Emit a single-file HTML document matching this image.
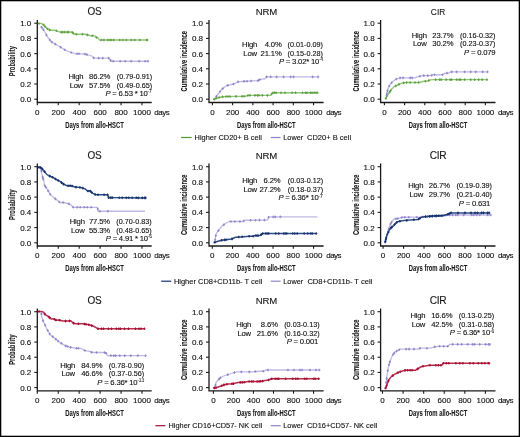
<!DOCTYPE html>
<html><head><meta charset="utf-8"><style>
html,body{margin:0;padding:0;background:#fff;}
svg{display:block;font-family:"Liberation Sans", sans-serif;will-change:transform;}
text{stroke:#111;stroke-width:0.12px;}
</style></head><body>
<svg width="520" height="437" viewBox="0 0 520 437">
<rect width="520" height="437" fill="#fff"/>
<rect x="0.65" y="0.65" width="518.7" height="435.7" fill="none" stroke="#000" stroke-width="1.3"/>
<path d="M37.30 20.00V102.50H151.70" fill="none" stroke="#1a1a1a" stroke-width="1.3"/>
<path d="M34.30 99.20H37.3" stroke="#1a1a1a" stroke-width="1.1"/>
<text x="31.30" y="102.20" font-size="8.0" text-anchor="end" fill="#111"  letter-spacing="0">0.0</text>
<path d="M34.30 84.00H37.3" stroke="#1a1a1a" stroke-width="1.1"/>
<text x="31.30" y="87.00" font-size="8.0" text-anchor="end" fill="#111"  letter-spacing="0">0.2</text>
<path d="M34.30 68.80H37.3" stroke="#1a1a1a" stroke-width="1.1"/>
<text x="31.30" y="71.80" font-size="8.0" text-anchor="end" fill="#111"  letter-spacing="0">0.4</text>
<path d="M34.30 53.60H37.3" stroke="#1a1a1a" stroke-width="1.1"/>
<text x="31.30" y="56.60" font-size="8.0" text-anchor="end" fill="#111"  letter-spacing="0">0.6</text>
<path d="M34.30 38.40H37.3" stroke="#1a1a1a" stroke-width="1.1"/>
<text x="31.30" y="41.40" font-size="8.0" text-anchor="end" fill="#111"  letter-spacing="0">0.8</text>
<path d="M34.30 23.20H37.3" stroke="#1a1a1a" stroke-width="1.1"/>
<text x="31.30" y="26.20" font-size="8.0" text-anchor="end" fill="#111"  letter-spacing="0">1.0</text>
<path d="M37.30 102.5V105.30" stroke="#1a1a1a" stroke-width="1.1"/>
<text x="37.30" y="114.70" font-size="8.0" text-anchor="middle" fill="#111"  letter-spacing="0">0</text>
<path d="M58.24 102.5V105.30" stroke="#1a1a1a" stroke-width="1.1"/>
<text x="58.24" y="114.70" font-size="8.0" text-anchor="middle" fill="#111"  letter-spacing="0">200</text>
<path d="M79.18 102.5V105.30" stroke="#1a1a1a" stroke-width="1.1"/>
<text x="79.18" y="114.70" font-size="8.0" text-anchor="middle" fill="#111"  letter-spacing="0">400</text>
<path d="M100.12 102.5V105.30" stroke="#1a1a1a" stroke-width="1.1"/>
<text x="100.12" y="114.70" font-size="8.0" text-anchor="middle" fill="#111"  letter-spacing="0">600</text>
<path d="M121.06 102.5V105.30" stroke="#1a1a1a" stroke-width="1.1"/>
<text x="121.06" y="114.70" font-size="8.0" text-anchor="middle" fill="#111"  letter-spacing="0">800</text>
<path d="M142.00 102.5V105.30" stroke="#1a1a1a" stroke-width="1.1"/>
<text x="142.00" y="114.70" font-size="8.0" text-anchor="middle" fill="#111"  letter-spacing="0">1000</text>
<text x="154.30" y="114.70" font-size="8.0" text-anchor="start" fill="#111"  letter-spacing="-0.5">days</text>
<text x="94.50" y="15.30" font-size="10.0" text-anchor="middle" fill="#1a1a1a"  letter-spacing="-0.3">OS</text>
<text x="94.50" y="127.60" font-size="9.4" text-anchor="middle" fill="#1a1a1a" font-weight="bold" style="stroke-width:0.08px" textLength="58.5" lengthAdjust="spacingAndGlyphs">Days from allo-HSCT</text>
<text transform="translate(14.70 61.20) rotate(-90)" x="0" y="0" font-size="9.4" font-weight="bold" style="stroke-width:0.08px" text-anchor="middle" fill="#1a1a1a" textLength="30.3" lengthAdjust="spacingAndGlyphs">Probability</text>
<path d="M209.00 20.00V102.50H323.60" fill="none" stroke="#1a1a1a" stroke-width="1.3"/>
<path d="M206.00 99.20H209.0" stroke="#1a1a1a" stroke-width="1.1"/>
<text x="203.00" y="102.20" font-size="8.0" text-anchor="end" fill="#111"  letter-spacing="0">0.0</text>
<path d="M206.00 84.00H209.0" stroke="#1a1a1a" stroke-width="1.1"/>
<text x="203.00" y="87.00" font-size="8.0" text-anchor="end" fill="#111"  letter-spacing="0">0.2</text>
<path d="M206.00 68.80H209.0" stroke="#1a1a1a" stroke-width="1.1"/>
<text x="203.00" y="71.80" font-size="8.0" text-anchor="end" fill="#111"  letter-spacing="0">0.4</text>
<path d="M206.00 53.60H209.0" stroke="#1a1a1a" stroke-width="1.1"/>
<text x="203.00" y="56.60" font-size="8.0" text-anchor="end" fill="#111"  letter-spacing="0">0.6</text>
<path d="M206.00 38.40H209.0" stroke="#1a1a1a" stroke-width="1.1"/>
<text x="203.00" y="41.40" font-size="8.0" text-anchor="end" fill="#111"  letter-spacing="0">0.8</text>
<path d="M206.00 23.20H209.0" stroke="#1a1a1a" stroke-width="1.1"/>
<text x="203.00" y="26.20" font-size="8.0" text-anchor="end" fill="#111"  letter-spacing="0">1.0</text>
<path d="M212.40 102.5V105.30" stroke="#1a1a1a" stroke-width="1.1"/>
<text x="212.40" y="114.70" font-size="8.0" text-anchor="middle" fill="#111"  letter-spacing="0">0</text>
<path d="M232.63 102.5V105.30" stroke="#1a1a1a" stroke-width="1.1"/>
<text x="232.63" y="114.70" font-size="8.0" text-anchor="middle" fill="#111"  letter-spacing="0">200</text>
<path d="M252.86 102.5V105.30" stroke="#1a1a1a" stroke-width="1.1"/>
<text x="252.86" y="114.70" font-size="8.0" text-anchor="middle" fill="#111"  letter-spacing="0">400</text>
<path d="M273.09 102.5V105.30" stroke="#1a1a1a" stroke-width="1.1"/>
<text x="273.09" y="114.70" font-size="8.0" text-anchor="middle" fill="#111"  letter-spacing="0">600</text>
<path d="M293.32 102.5V105.30" stroke="#1a1a1a" stroke-width="1.1"/>
<text x="293.32" y="114.70" font-size="8.0" text-anchor="middle" fill="#111"  letter-spacing="0">800</text>
<path d="M313.55 102.5V105.30" stroke="#1a1a1a" stroke-width="1.1"/>
<text x="313.55" y="114.70" font-size="8.0" text-anchor="middle" fill="#111"  letter-spacing="0">1000</text>
<text x="326.20" y="114.70" font-size="8.0" text-anchor="start" fill="#111"  letter-spacing="-0.5">days</text>
<text x="266.30" y="15.30" font-size="9.6" text-anchor="middle" fill="#1a1a1a"  letter-spacing="-0.2">NRM</text>
<text x="266.30" y="127.60" font-size="9.4" text-anchor="middle" fill="#1a1a1a" font-weight="bold" style="stroke-width:0.08px" textLength="58.5" lengthAdjust="spacingAndGlyphs">Days from allo-HSCT</text>
<text transform="translate(187.10 61.20) rotate(-90)" x="0" y="0" font-size="9.4" font-weight="bold" style="stroke-width:0.08px" text-anchor="middle" fill="#1a1a1a" textLength="60.6" lengthAdjust="spacingAndGlyphs">Cumulative incidence</text>
<path d="M380.60 20.00V102.50H495.50" fill="none" stroke="#1a1a1a" stroke-width="1.3"/>
<path d="M377.60 99.20H380.6" stroke="#1a1a1a" stroke-width="1.1"/>
<text x="374.60" y="102.20" font-size="8.0" text-anchor="end" fill="#111"  letter-spacing="0">0.0</text>
<path d="M377.60 84.00H380.6" stroke="#1a1a1a" stroke-width="1.1"/>
<text x="374.60" y="87.00" font-size="8.0" text-anchor="end" fill="#111"  letter-spacing="0">0.2</text>
<path d="M377.60 68.80H380.6" stroke="#1a1a1a" stroke-width="1.1"/>
<text x="374.60" y="71.80" font-size="8.0" text-anchor="end" fill="#111"  letter-spacing="0">0.4</text>
<path d="M377.60 53.60H380.6" stroke="#1a1a1a" stroke-width="1.1"/>
<text x="374.60" y="56.60" font-size="8.0" text-anchor="end" fill="#111"  letter-spacing="0">0.6</text>
<path d="M377.60 38.40H380.6" stroke="#1a1a1a" stroke-width="1.1"/>
<text x="374.60" y="41.40" font-size="8.0" text-anchor="end" fill="#111"  letter-spacing="0">0.8</text>
<path d="M377.60 23.20H380.6" stroke="#1a1a1a" stroke-width="1.1"/>
<text x="374.60" y="26.20" font-size="8.0" text-anchor="end" fill="#111"  letter-spacing="0">1.0</text>
<path d="M384.40 102.5V105.30" stroke="#1a1a1a" stroke-width="1.1"/>
<text x="384.40" y="114.70" font-size="8.0" text-anchor="middle" fill="#111"  letter-spacing="0">0</text>
<path d="M404.60 102.5V105.30" stroke="#1a1a1a" stroke-width="1.1"/>
<text x="404.60" y="114.70" font-size="8.0" text-anchor="middle" fill="#111"  letter-spacing="0">200</text>
<path d="M424.80 102.5V105.30" stroke="#1a1a1a" stroke-width="1.1"/>
<text x="424.80" y="114.70" font-size="8.0" text-anchor="middle" fill="#111"  letter-spacing="0">400</text>
<path d="M445.00 102.5V105.30" stroke="#1a1a1a" stroke-width="1.1"/>
<text x="445.00" y="114.70" font-size="8.0" text-anchor="middle" fill="#111"  letter-spacing="0">600</text>
<path d="M465.20 102.5V105.30" stroke="#1a1a1a" stroke-width="1.1"/>
<text x="465.20" y="114.70" font-size="8.0" text-anchor="middle" fill="#111"  letter-spacing="0">800</text>
<path d="M485.40 102.5V105.30" stroke="#1a1a1a" stroke-width="1.1"/>
<text x="485.40" y="114.70" font-size="8.0" text-anchor="middle" fill="#111"  letter-spacing="0">1000</text>
<text x="498.10" y="114.70" font-size="8.0" text-anchor="start" fill="#111"  letter-spacing="-0.5">days</text>
<text x="438.05" y="15.30" font-size="9.6" text-anchor="middle" fill="#1a1a1a" textLength="14.4" lengthAdjust="spacingAndGlyphs">CIR</text>
<text x="438.05" y="127.60" font-size="9.4" text-anchor="middle" fill="#1a1a1a" font-weight="bold" style="stroke-width:0.08px" textLength="58.5" lengthAdjust="spacingAndGlyphs">Days from allo-HSCT</text>
<text transform="translate(358.70 61.20) rotate(-90)" x="0" y="0" font-size="9.4" font-weight="bold" style="stroke-width:0.08px" text-anchor="middle" fill="#1a1a1a" textLength="60.6" lengthAdjust="spacingAndGlyphs">Cumulative incidence</text>
<path d="M37.30 163.50V246.00H151.70" fill="none" stroke="#1a1a1a" stroke-width="1.3"/>
<path d="M34.30 242.80H37.3" stroke="#1a1a1a" stroke-width="1.1"/>
<text x="31.30" y="245.80" font-size="8.0" text-anchor="end" fill="#111"  letter-spacing="0">0.0</text>
<path d="M34.30 227.58H37.3" stroke="#1a1a1a" stroke-width="1.1"/>
<text x="31.30" y="230.58" font-size="8.0" text-anchor="end" fill="#111"  letter-spacing="0">0.2</text>
<path d="M34.30 212.36H37.3" stroke="#1a1a1a" stroke-width="1.1"/>
<text x="31.30" y="215.36" font-size="8.0" text-anchor="end" fill="#111"  letter-spacing="0">0.4</text>
<path d="M34.30 197.14H37.3" stroke="#1a1a1a" stroke-width="1.1"/>
<text x="31.30" y="200.14" font-size="8.0" text-anchor="end" fill="#111"  letter-spacing="0">0.6</text>
<path d="M34.30 181.92H37.3" stroke="#1a1a1a" stroke-width="1.1"/>
<text x="31.30" y="184.92" font-size="8.0" text-anchor="end" fill="#111"  letter-spacing="0">0.8</text>
<path d="M34.30 166.70H37.3" stroke="#1a1a1a" stroke-width="1.1"/>
<text x="31.30" y="169.70" font-size="8.0" text-anchor="end" fill="#111"  letter-spacing="0">1.0</text>
<path d="M37.30 246.0V248.80" stroke="#1a1a1a" stroke-width="1.1"/>
<text x="37.30" y="258.20" font-size="8.0" text-anchor="middle" fill="#111"  letter-spacing="0">0</text>
<path d="M58.24 246.0V248.80" stroke="#1a1a1a" stroke-width="1.1"/>
<text x="58.24" y="258.20" font-size="8.0" text-anchor="middle" fill="#111"  letter-spacing="0">200</text>
<path d="M79.18 246.0V248.80" stroke="#1a1a1a" stroke-width="1.1"/>
<text x="79.18" y="258.20" font-size="8.0" text-anchor="middle" fill="#111"  letter-spacing="0">400</text>
<path d="M100.12 246.0V248.80" stroke="#1a1a1a" stroke-width="1.1"/>
<text x="100.12" y="258.20" font-size="8.0" text-anchor="middle" fill="#111"  letter-spacing="0">600</text>
<path d="M121.06 246.0V248.80" stroke="#1a1a1a" stroke-width="1.1"/>
<text x="121.06" y="258.20" font-size="8.0" text-anchor="middle" fill="#111"  letter-spacing="0">800</text>
<path d="M142.00 246.0V248.80" stroke="#1a1a1a" stroke-width="1.1"/>
<text x="142.00" y="258.20" font-size="8.0" text-anchor="middle" fill="#111"  letter-spacing="0">1000</text>
<text x="154.30" y="258.20" font-size="8.0" text-anchor="start" fill="#111"  letter-spacing="-0.5">days</text>
<text x="94.50" y="158.80" font-size="10.0" text-anchor="middle" fill="#1a1a1a"  letter-spacing="-0.3">OS</text>
<text x="94.50" y="271.10" font-size="9.4" text-anchor="middle" fill="#1a1a1a" font-weight="bold" style="stroke-width:0.08px" textLength="58.5" lengthAdjust="spacingAndGlyphs">Days from allo-HSCT</text>
<text transform="translate(14.70 204.75) rotate(-90)" x="0" y="0" font-size="9.4" font-weight="bold" style="stroke-width:0.08px" text-anchor="middle" fill="#1a1a1a" textLength="30.3" lengthAdjust="spacingAndGlyphs">Probability</text>
<path d="M209.00 163.50V246.00H323.60" fill="none" stroke="#1a1a1a" stroke-width="1.3"/>
<path d="M206.00 242.80H209.0" stroke="#1a1a1a" stroke-width="1.1"/>
<text x="203.00" y="245.80" font-size="8.0" text-anchor="end" fill="#111"  letter-spacing="0">0.0</text>
<path d="M206.00 227.58H209.0" stroke="#1a1a1a" stroke-width="1.1"/>
<text x="203.00" y="230.58" font-size="8.0" text-anchor="end" fill="#111"  letter-spacing="0">0.2</text>
<path d="M206.00 212.36H209.0" stroke="#1a1a1a" stroke-width="1.1"/>
<text x="203.00" y="215.36" font-size="8.0" text-anchor="end" fill="#111"  letter-spacing="0">0.4</text>
<path d="M206.00 197.14H209.0" stroke="#1a1a1a" stroke-width="1.1"/>
<text x="203.00" y="200.14" font-size="8.0" text-anchor="end" fill="#111"  letter-spacing="0">0.6</text>
<path d="M206.00 181.92H209.0" stroke="#1a1a1a" stroke-width="1.1"/>
<text x="203.00" y="184.92" font-size="8.0" text-anchor="end" fill="#111"  letter-spacing="0">0.8</text>
<path d="M206.00 166.70H209.0" stroke="#1a1a1a" stroke-width="1.1"/>
<text x="203.00" y="169.70" font-size="8.0" text-anchor="end" fill="#111"  letter-spacing="0">1.0</text>
<path d="M212.30 246.0V248.80" stroke="#1a1a1a" stroke-width="1.1"/>
<text x="212.30" y="258.20" font-size="8.0" text-anchor="middle" fill="#111"  letter-spacing="0">0</text>
<path d="M232.55 246.0V248.80" stroke="#1a1a1a" stroke-width="1.1"/>
<text x="232.55" y="258.20" font-size="8.0" text-anchor="middle" fill="#111"  letter-spacing="0">200</text>
<path d="M252.80 246.0V248.80" stroke="#1a1a1a" stroke-width="1.1"/>
<text x="252.80" y="258.20" font-size="8.0" text-anchor="middle" fill="#111"  letter-spacing="0">400</text>
<path d="M273.05 246.0V248.80" stroke="#1a1a1a" stroke-width="1.1"/>
<text x="273.05" y="258.20" font-size="8.0" text-anchor="middle" fill="#111"  letter-spacing="0">600</text>
<path d="M293.30 246.0V248.80" stroke="#1a1a1a" stroke-width="1.1"/>
<text x="293.30" y="258.20" font-size="8.0" text-anchor="middle" fill="#111"  letter-spacing="0">800</text>
<path d="M313.55 246.0V248.80" stroke="#1a1a1a" stroke-width="1.1"/>
<text x="313.55" y="258.20" font-size="8.0" text-anchor="middle" fill="#111"  letter-spacing="0">1000</text>
<text x="326.20" y="258.20" font-size="8.0" text-anchor="start" fill="#111"  letter-spacing="-0.5">days</text>
<text x="266.30" y="158.80" font-size="9.6" text-anchor="middle" fill="#1a1a1a"  letter-spacing="-0.2">NRM</text>
<text x="266.30" y="271.10" font-size="9.4" text-anchor="middle" fill="#1a1a1a" font-weight="bold" style="stroke-width:0.08px" textLength="58.5" lengthAdjust="spacingAndGlyphs">Days from allo-HSCT</text>
<text transform="translate(187.10 204.75) rotate(-90)" x="0" y="0" font-size="9.4" font-weight="bold" style="stroke-width:0.08px" text-anchor="middle" fill="#1a1a1a" textLength="60.6" lengthAdjust="spacingAndGlyphs">Cumulative incidence</text>
<path d="M380.60 163.50V246.00H495.50" fill="none" stroke="#1a1a1a" stroke-width="1.3"/>
<path d="M377.60 242.80H380.6" stroke="#1a1a1a" stroke-width="1.1"/>
<text x="374.60" y="245.80" font-size="8.0" text-anchor="end" fill="#111"  letter-spacing="0">0.0</text>
<path d="M377.60 227.58H380.6" stroke="#1a1a1a" stroke-width="1.1"/>
<text x="374.60" y="230.58" font-size="8.0" text-anchor="end" fill="#111"  letter-spacing="0">0.2</text>
<path d="M377.60 212.36H380.6" stroke="#1a1a1a" stroke-width="1.1"/>
<text x="374.60" y="215.36" font-size="8.0" text-anchor="end" fill="#111"  letter-spacing="0">0.4</text>
<path d="M377.60 197.14H380.6" stroke="#1a1a1a" stroke-width="1.1"/>
<text x="374.60" y="200.14" font-size="8.0" text-anchor="end" fill="#111"  letter-spacing="0">0.6</text>
<path d="M377.60 181.92H380.6" stroke="#1a1a1a" stroke-width="1.1"/>
<text x="374.60" y="184.92" font-size="8.0" text-anchor="end" fill="#111"  letter-spacing="0">0.8</text>
<path d="M377.60 166.70H380.6" stroke="#1a1a1a" stroke-width="1.1"/>
<text x="374.60" y="169.70" font-size="8.0" text-anchor="end" fill="#111"  letter-spacing="0">1.0</text>
<path d="M383.10 246.0V248.80" stroke="#1a1a1a" stroke-width="1.1"/>
<text x="383.10" y="258.20" font-size="8.0" text-anchor="middle" fill="#111"  letter-spacing="0">0</text>
<path d="M403.56 246.0V248.80" stroke="#1a1a1a" stroke-width="1.1"/>
<text x="403.56" y="258.20" font-size="8.0" text-anchor="middle" fill="#111"  letter-spacing="0">200</text>
<path d="M424.02 246.0V248.80" stroke="#1a1a1a" stroke-width="1.1"/>
<text x="424.02" y="258.20" font-size="8.0" text-anchor="middle" fill="#111"  letter-spacing="0">400</text>
<path d="M444.48 246.0V248.80" stroke="#1a1a1a" stroke-width="1.1"/>
<text x="444.48" y="258.20" font-size="8.0" text-anchor="middle" fill="#111"  letter-spacing="0">600</text>
<path d="M464.94 246.0V248.80" stroke="#1a1a1a" stroke-width="1.1"/>
<text x="464.94" y="258.20" font-size="8.0" text-anchor="middle" fill="#111"  letter-spacing="0">800</text>
<path d="M485.40 246.0V248.80" stroke="#1a1a1a" stroke-width="1.1"/>
<text x="485.40" y="258.20" font-size="8.0" text-anchor="middle" fill="#111"  letter-spacing="0">1000</text>
<text x="498.10" y="258.20" font-size="8.0" text-anchor="start" fill="#111"  letter-spacing="-0.5">days</text>
<text x="438.05" y="158.80" font-size="10.2" text-anchor="middle" fill="#1a1a1a"  letter-spacing="-0.4">CIR</text>
<text x="438.05" y="271.10" font-size="9.4" text-anchor="middle" fill="#1a1a1a" font-weight="bold" style="stroke-width:0.08px" textLength="58.5" lengthAdjust="spacingAndGlyphs">Days from allo-HSCT</text>
<text transform="translate(358.70 204.75) rotate(-90)" x="0" y="0" font-size="9.4" font-weight="bold" style="stroke-width:0.08px" text-anchor="middle" fill="#1a1a1a" textLength="60.6" lengthAdjust="spacingAndGlyphs">Cumulative incidence</text>
<path d="M37.30 308.50V390.90H151.70" fill="none" stroke="#1a1a1a" stroke-width="1.3"/>
<path d="M34.30 387.60H37.3" stroke="#1a1a1a" stroke-width="1.1"/>
<text x="31.30" y="390.60" font-size="8.0" text-anchor="end" fill="#111"  letter-spacing="0">0.0</text>
<path d="M34.30 372.42H37.3" stroke="#1a1a1a" stroke-width="1.1"/>
<text x="31.30" y="375.42" font-size="8.0" text-anchor="end" fill="#111"  letter-spacing="0">0.2</text>
<path d="M34.30 357.24H37.3" stroke="#1a1a1a" stroke-width="1.1"/>
<text x="31.30" y="360.24" font-size="8.0" text-anchor="end" fill="#111"  letter-spacing="0">0.4</text>
<path d="M34.30 342.06H37.3" stroke="#1a1a1a" stroke-width="1.1"/>
<text x="31.30" y="345.06" font-size="8.0" text-anchor="end" fill="#111"  letter-spacing="0">0.6</text>
<path d="M34.30 326.88H37.3" stroke="#1a1a1a" stroke-width="1.1"/>
<text x="31.30" y="329.88" font-size="8.0" text-anchor="end" fill="#111"  letter-spacing="0">0.8</text>
<path d="M34.30 311.70H37.3" stroke="#1a1a1a" stroke-width="1.1"/>
<text x="31.30" y="314.70" font-size="8.0" text-anchor="end" fill="#111"  letter-spacing="0">1.0</text>
<path d="M37.30 390.9V393.70" stroke="#1a1a1a" stroke-width="1.1"/>
<text x="37.30" y="403.10" font-size="8.0" text-anchor="middle" fill="#111"  letter-spacing="0">0</text>
<path d="M58.24 390.9V393.70" stroke="#1a1a1a" stroke-width="1.1"/>
<text x="58.24" y="403.10" font-size="8.0" text-anchor="middle" fill="#111"  letter-spacing="0">200</text>
<path d="M79.18 390.9V393.70" stroke="#1a1a1a" stroke-width="1.1"/>
<text x="79.18" y="403.10" font-size="8.0" text-anchor="middle" fill="#111"  letter-spacing="0">400</text>
<path d="M100.12 390.9V393.70" stroke="#1a1a1a" stroke-width="1.1"/>
<text x="100.12" y="403.10" font-size="8.0" text-anchor="middle" fill="#111"  letter-spacing="0">600</text>
<path d="M121.06 390.9V393.70" stroke="#1a1a1a" stroke-width="1.1"/>
<text x="121.06" y="403.10" font-size="8.0" text-anchor="middle" fill="#111"  letter-spacing="0">800</text>
<path d="M142.00 390.9V393.70" stroke="#1a1a1a" stroke-width="1.1"/>
<text x="142.00" y="403.10" font-size="8.0" text-anchor="middle" fill="#111"  letter-spacing="0">1000</text>
<text x="154.30" y="403.10" font-size="8.0" text-anchor="start" fill="#111"  letter-spacing="-0.5">days</text>
<text x="94.50" y="303.80" font-size="10.0" text-anchor="middle" fill="#1a1a1a"  letter-spacing="-0.3">OS</text>
<text x="94.50" y="416.10" font-size="9.4" text-anchor="middle" fill="#1a1a1a" font-weight="bold" style="stroke-width:0.08px" textLength="58.5" lengthAdjust="spacingAndGlyphs">Days from allo-HSCT</text>
<text transform="translate(14.70 349.65) rotate(-90)" x="0" y="0" font-size="9.4" font-weight="bold" style="stroke-width:0.08px" text-anchor="middle" fill="#1a1a1a" textLength="30.3" lengthAdjust="spacingAndGlyphs">Probability</text>
<path d="M209.00 308.50V390.90H323.60" fill="none" stroke="#1a1a1a" stroke-width="1.3"/>
<path d="M206.00 387.60H209.0" stroke="#1a1a1a" stroke-width="1.1"/>
<text x="203.00" y="390.60" font-size="8.0" text-anchor="end" fill="#111"  letter-spacing="0">0.0</text>
<path d="M206.00 372.42H209.0" stroke="#1a1a1a" stroke-width="1.1"/>
<text x="203.00" y="375.42" font-size="8.0" text-anchor="end" fill="#111"  letter-spacing="0">0.2</text>
<path d="M206.00 357.24H209.0" stroke="#1a1a1a" stroke-width="1.1"/>
<text x="203.00" y="360.24" font-size="8.0" text-anchor="end" fill="#111"  letter-spacing="0">0.4</text>
<path d="M206.00 342.06H209.0" stroke="#1a1a1a" stroke-width="1.1"/>
<text x="203.00" y="345.06" font-size="8.0" text-anchor="end" fill="#111"  letter-spacing="0">0.6</text>
<path d="M206.00 326.88H209.0" stroke="#1a1a1a" stroke-width="1.1"/>
<text x="203.00" y="329.88" font-size="8.0" text-anchor="end" fill="#111"  letter-spacing="0">0.8</text>
<path d="M206.00 311.70H209.0" stroke="#1a1a1a" stroke-width="1.1"/>
<text x="203.00" y="314.70" font-size="8.0" text-anchor="end" fill="#111"  letter-spacing="0">1.0</text>
<path d="M213.40 390.9V393.70" stroke="#1a1a1a" stroke-width="1.1"/>
<text x="213.40" y="403.10" font-size="8.0" text-anchor="middle" fill="#111"  letter-spacing="0">0</text>
<path d="M233.43 390.9V393.70" stroke="#1a1a1a" stroke-width="1.1"/>
<text x="233.43" y="403.10" font-size="8.0" text-anchor="middle" fill="#111"  letter-spacing="0">200</text>
<path d="M253.46 390.9V393.70" stroke="#1a1a1a" stroke-width="1.1"/>
<text x="253.46" y="403.10" font-size="8.0" text-anchor="middle" fill="#111"  letter-spacing="0">400</text>
<path d="M273.49 390.9V393.70" stroke="#1a1a1a" stroke-width="1.1"/>
<text x="273.49" y="403.10" font-size="8.0" text-anchor="middle" fill="#111"  letter-spacing="0">600</text>
<path d="M293.52 390.9V393.70" stroke="#1a1a1a" stroke-width="1.1"/>
<text x="293.52" y="403.10" font-size="8.0" text-anchor="middle" fill="#111"  letter-spacing="0">800</text>
<path d="M313.55 390.9V393.70" stroke="#1a1a1a" stroke-width="1.1"/>
<text x="313.55" y="403.10" font-size="8.0" text-anchor="middle" fill="#111"  letter-spacing="0">1000</text>
<text x="326.20" y="403.10" font-size="8.0" text-anchor="start" fill="#111"  letter-spacing="-0.5">days</text>
<text x="266.30" y="303.80" font-size="9.6" text-anchor="middle" fill="#1a1a1a"  letter-spacing="-0.2">NRM</text>
<text x="266.30" y="416.10" font-size="9.4" text-anchor="middle" fill="#1a1a1a" font-weight="bold" style="stroke-width:0.08px" textLength="58.5" lengthAdjust="spacingAndGlyphs">Days from allo-HSCT</text>
<text transform="translate(187.10 349.65) rotate(-90)" x="0" y="0" font-size="9.4" font-weight="bold" style="stroke-width:0.08px" text-anchor="middle" fill="#1a1a1a" textLength="60.6" lengthAdjust="spacingAndGlyphs">Cumulative incidence</text>
<path d="M380.60 308.50V390.90H495.50" fill="none" stroke="#1a1a1a" stroke-width="1.3"/>
<path d="M377.60 387.60H380.6" stroke="#1a1a1a" stroke-width="1.1"/>
<text x="374.60" y="390.60" font-size="8.0" text-anchor="end" fill="#111"  letter-spacing="0">0.0</text>
<path d="M377.60 372.42H380.6" stroke="#1a1a1a" stroke-width="1.1"/>
<text x="374.60" y="375.42" font-size="8.0" text-anchor="end" fill="#111"  letter-spacing="0">0.2</text>
<path d="M377.60 357.24H380.6" stroke="#1a1a1a" stroke-width="1.1"/>
<text x="374.60" y="360.24" font-size="8.0" text-anchor="end" fill="#111"  letter-spacing="0">0.4</text>
<path d="M377.60 342.06H380.6" stroke="#1a1a1a" stroke-width="1.1"/>
<text x="374.60" y="345.06" font-size="8.0" text-anchor="end" fill="#111"  letter-spacing="0">0.6</text>
<path d="M377.60 326.88H380.6" stroke="#1a1a1a" stroke-width="1.1"/>
<text x="374.60" y="329.88" font-size="8.0" text-anchor="end" fill="#111"  letter-spacing="0">0.8</text>
<path d="M377.60 311.70H380.6" stroke="#1a1a1a" stroke-width="1.1"/>
<text x="374.60" y="314.70" font-size="8.0" text-anchor="end" fill="#111"  letter-spacing="0">1.0</text>
<path d="M382.50 390.9V393.70" stroke="#1a1a1a" stroke-width="1.1"/>
<text x="382.50" y="403.10" font-size="8.0" text-anchor="middle" fill="#111"  letter-spacing="0">0</text>
<path d="M403.08 390.9V393.70" stroke="#1a1a1a" stroke-width="1.1"/>
<text x="403.08" y="403.10" font-size="8.0" text-anchor="middle" fill="#111"  letter-spacing="0">200</text>
<path d="M423.66 390.9V393.70" stroke="#1a1a1a" stroke-width="1.1"/>
<text x="423.66" y="403.10" font-size="8.0" text-anchor="middle" fill="#111"  letter-spacing="0">400</text>
<path d="M444.24 390.9V393.70" stroke="#1a1a1a" stroke-width="1.1"/>
<text x="444.24" y="403.10" font-size="8.0" text-anchor="middle" fill="#111"  letter-spacing="0">600</text>
<path d="M464.82 390.9V393.70" stroke="#1a1a1a" stroke-width="1.1"/>
<text x="464.82" y="403.10" font-size="8.0" text-anchor="middle" fill="#111"  letter-spacing="0">800</text>
<path d="M485.40 390.9V393.70" stroke="#1a1a1a" stroke-width="1.1"/>
<text x="485.40" y="403.10" font-size="8.0" text-anchor="middle" fill="#111"  letter-spacing="0">1000</text>
<text x="498.10" y="403.10" font-size="8.0" text-anchor="start" fill="#111"  letter-spacing="-0.5">days</text>
<text x="438.05" y="303.80" font-size="10.2" text-anchor="middle" fill="#1a1a1a"  letter-spacing="-0.4">CIR</text>
<text x="438.05" y="416.10" font-size="9.4" text-anchor="middle" fill="#1a1a1a" font-weight="bold" style="stroke-width:0.08px" textLength="58.5" lengthAdjust="spacingAndGlyphs">Days from allo-HSCT</text>
<text transform="translate(358.70 349.65) rotate(-90)" x="0" y="0" font-size="9.4" font-weight="bold" style="stroke-width:0.08px" text-anchor="middle" fill="#1a1a1a" textLength="60.6" lengthAdjust="spacingAndGlyphs">Cumulative incidence</text>
<text x="83.40" y="78.90" font-size="7.7" text-anchor="end" fill="#111"  letter-spacing="-0.22">High</text>
<text x="83.20" y="87.60" font-size="7.7" text-anchor="end" fill="#111"  letter-spacing="-0.22">Low</text>
<text x="110.30" y="78.90" font-size="7.7" text-anchor="end" fill="#111"  letter-spacing="-0.12">86.2%</text>
<text x="110.30" y="87.60" font-size="7.7" text-anchor="end" fill="#111"  letter-spacing="-0.12">57.5%</text>
<text x="152.20" y="78.90" font-size="7.7" text-anchor="end" fill="#111" textLength="35.4" lengthAdjust="spacingAndGlyphs">(0.79-0.91)</text>
<text x="152.20" y="87.60" font-size="7.7" text-anchor="end" fill="#111" textLength="35.4" lengthAdjust="spacingAndGlyphs">(0.49-0.65)</text>
<text x="151.60" y="96.20" font-size="7.7" letter-spacing="-0.2" text-anchor="end" fill="#111"><tspan font-style="italic">P</tspan> = 6.53 * 10<tspan font-size="5" dy="-2.8" fill="#666">-7</tspan></text>
<text x="257.00" y="47.10" font-size="7.7" text-anchor="end" fill="#111"  letter-spacing="-0.22">High</text>
<text x="256.80" y="55.90" font-size="7.7" text-anchor="end" fill="#111"  letter-spacing="-0.22">Low</text>
<text x="281.70" y="47.10" font-size="7.7" text-anchor="end" fill="#111"  letter-spacing="-0.12">4.0%</text>
<text x="281.70" y="55.90" font-size="7.7" text-anchor="end" fill="#111"  letter-spacing="-0.12">21.1%</text>
<text x="323.00" y="47.10" font-size="7.7" text-anchor="end" fill="#111" textLength="35.4" lengthAdjust="spacingAndGlyphs">(0.01-0.09)</text>
<text x="323.00" y="55.90" font-size="7.7" text-anchor="end" fill="#111" textLength="35.4" lengthAdjust="spacingAndGlyphs">(0.15-0.28)</text>
<text x="323.20" y="63.90" font-size="7.7" letter-spacing="-0.2" text-anchor="end" fill="#111"><tspan font-style="italic">P</tspan> = 3.02* 10<tspan font-size="5" dy="-2.8" fill="#666">-4</tspan></text>
<text x="426.70" y="37.60" font-size="7.7" text-anchor="end" fill="#111"  letter-spacing="-0.22">High</text>
<text x="426.50" y="46.30" font-size="7.7" text-anchor="end" fill="#111"  letter-spacing="-0.22">Low</text>
<text x="453.50" y="37.60" font-size="7.7" text-anchor="end" fill="#111"  letter-spacing="-0.12">23.7%</text>
<text x="453.50" y="46.30" font-size="7.7" text-anchor="end" fill="#111"  letter-spacing="-0.12">30.2%</text>
<text x="495.50" y="37.60" font-size="7.7" text-anchor="end" fill="#111" textLength="35.4" lengthAdjust="spacingAndGlyphs">(0.16-0.32)</text>
<text x="495.50" y="46.30" font-size="7.7" text-anchor="end" fill="#111" textLength="35.4" lengthAdjust="spacingAndGlyphs">(0.23-0.37)</text>
<text x="495.40" y="55.00" font-size="7.7" letter-spacing="-0.2" text-anchor="end" fill="#111"><tspan font-style="italic">P</tspan> = 0.079</text>
<text x="84.70" y="224.00" font-size="7.7" text-anchor="end" fill="#111"  letter-spacing="-0.22">High</text>
<text x="84.50" y="232.70" font-size="7.7" text-anchor="end" fill="#111"  letter-spacing="-0.22">Low</text>
<text x="110.10" y="224.00" font-size="7.7" text-anchor="end" fill="#111"  letter-spacing="-0.12">77.5%</text>
<text x="110.10" y="232.70" font-size="7.7" text-anchor="end" fill="#111"  letter-spacing="-0.12">55.3%</text>
<text x="151.70" y="224.00" font-size="7.7" text-anchor="end" fill="#111" textLength="35.4" lengthAdjust="spacingAndGlyphs">(0.70-0.83)</text>
<text x="151.70" y="232.70" font-size="7.7" text-anchor="end" fill="#111" textLength="35.4" lengthAdjust="spacingAndGlyphs">(0.48-0.65)</text>
<text x="151.90" y="241.00" font-size="7.7" letter-spacing="-0.2" text-anchor="end" fill="#111"><tspan font-style="italic">P</tspan> = 4.91 * 10<tspan font-size="5" dy="-2.8" fill="#666">-6</tspan></text>
<text x="257.15" y="183.20" font-size="7.7" text-anchor="end" fill="#111"  letter-spacing="-0.22">High</text>
<text x="256.95" y="191.90" font-size="7.7" text-anchor="end" fill="#111"  letter-spacing="-0.22">Low</text>
<text x="280.60" y="183.20" font-size="7.7" text-anchor="end" fill="#111"  letter-spacing="-0.12">6.2%</text>
<text x="280.60" y="191.90" font-size="7.7" text-anchor="end" fill="#111"  letter-spacing="-0.12">27.2%</text>
<text x="323.20" y="183.20" font-size="7.7" text-anchor="end" fill="#111" textLength="35.4" lengthAdjust="spacingAndGlyphs">(0.03-0.12)</text>
<text x="323.20" y="191.90" font-size="7.7" text-anchor="end" fill="#111" textLength="35.4" lengthAdjust="spacingAndGlyphs">(0.18-0.37)</text>
<text x="322.60" y="200.30" font-size="7.7" letter-spacing="-0.2" text-anchor="end" fill="#111"><tspan font-style="italic">P</tspan> = 6.36* 10<tspan font-size="5" dy="-2.8" fill="#666">-7</tspan></text>
<text x="423.20" y="187.90" font-size="7.7" text-anchor="end" fill="#111"  letter-spacing="-0.22">High</text>
<text x="423.00" y="196.50" font-size="7.7" text-anchor="end" fill="#111"  letter-spacing="-0.22">Low</text>
<text x="450.00" y="187.90" font-size="7.7" text-anchor="end" fill="#111"  letter-spacing="-0.12">26.7%</text>
<text x="450.00" y="196.50" font-size="7.7" text-anchor="end" fill="#111"  letter-spacing="-0.12">29.7%</text>
<text x="491.90" y="187.90" font-size="7.7" text-anchor="end" fill="#111" textLength="35.4" lengthAdjust="spacingAndGlyphs">(0.19-0.39)</text>
<text x="491.90" y="196.50" font-size="7.7" text-anchor="end" fill="#111" textLength="35.4" lengthAdjust="spacingAndGlyphs">(0.21-0.40)</text>
<text x="490.20" y="206.00" font-size="7.7" letter-spacing="-0.2" text-anchor="end" fill="#111"><tspan font-style="italic">P</tspan> = 0.631</text>
<text x="75.10" y="367.60" font-size="7.7" text-anchor="end" fill="#111"  letter-spacing="-0.22">High</text>
<text x="74.90" y="376.30" font-size="7.7" text-anchor="end" fill="#111"  letter-spacing="-0.22">Low</text>
<text x="102.40" y="367.60" font-size="7.7" text-anchor="end" fill="#111"  letter-spacing="-0.12">84.9%</text>
<text x="102.40" y="376.30" font-size="7.7" text-anchor="end" fill="#111"  letter-spacing="-0.12">46.6%</text>
<text x="144.15" y="367.60" font-size="7.7" text-anchor="end" fill="#111" textLength="35.4" lengthAdjust="spacingAndGlyphs">(0.78-0.90)</text>
<text x="144.15" y="376.30" font-size="7.7" text-anchor="end" fill="#111" textLength="35.4" lengthAdjust="spacingAndGlyphs">(0.37-0.56)</text>
<text x="144.05" y="384.90" font-size="7.7" letter-spacing="-0.2" text-anchor="end" fill="#111"><tspan font-style="italic">P</tspan> = 6.36* 10<tspan font-size="5" dy="-2.8" fill="#666">-13</tspan></text>
<text x="251.10" y="326.80" font-size="7.7" text-anchor="end" fill="#111"  letter-spacing="-0.22">High</text>
<text x="250.90" y="335.50" font-size="7.7" text-anchor="end" fill="#111"  letter-spacing="-0.22">Low</text>
<text x="277.90" y="326.80" font-size="7.7" text-anchor="end" fill="#111"  letter-spacing="-0.12">8.6%</text>
<text x="277.90" y="335.50" font-size="7.7" text-anchor="end" fill="#111"  letter-spacing="-0.12">21.6%</text>
<text x="319.60" y="326.80" font-size="7.7" text-anchor="end" fill="#111" textLength="35.4" lengthAdjust="spacingAndGlyphs">(0.03-0.13)</text>
<text x="319.60" y="335.50" font-size="7.7" text-anchor="end" fill="#111" textLength="35.4" lengthAdjust="spacingAndGlyphs">(0.16-0.32)</text>
<text x="318.10" y="344.00" font-size="7.7" letter-spacing="-0.2" text-anchor="end" fill="#111"><tspan font-style="italic">P</tspan> = 0.001</text>
<text x="425.40" y="318.10" font-size="7.7" text-anchor="end" fill="#111"  letter-spacing="-0.22">High</text>
<text x="425.20" y="326.75" font-size="7.7" text-anchor="end" fill="#111"  letter-spacing="-0.22">Low</text>
<text x="452.40" y="318.10" font-size="7.7" text-anchor="end" fill="#111"  letter-spacing="-0.12">16.6%</text>
<text x="452.40" y="326.75" font-size="7.7" text-anchor="end" fill="#111"  letter-spacing="-0.12">42.5%</text>
<text x="494.15" y="318.10" font-size="7.7" text-anchor="end" fill="#111" textLength="35.4" lengthAdjust="spacingAndGlyphs">(0.13-0.25)</text>
<text x="494.15" y="326.75" font-size="7.7" text-anchor="end" fill="#111" textLength="35.4" lengthAdjust="spacingAndGlyphs">(0.31-0.58)</text>
<text x="494.05" y="335.40" font-size="7.7" letter-spacing="-0.2" text-anchor="end" fill="#111"><tspan font-style="italic">P</tspan> = 6.36* 10<tspan font-size="5" dy="-2.8" fill="#666">-6</tspan></text>
<path d="M40.80 26.20 L43.30 29.50 L45.20 32.50 L46.60 35.40 L48.10 37.60 L51.25 41.75 L55.60 44.25 L60.00 46.75 L63.75 49.25 L68.75 51.75 L75.00 53.60 L85.00 54.00 L90.00 55.50 L92.50 56.25 L93.75 58.10 L108.75 58.10 L111.25 61.25 L148.10 61.25" fill="none" stroke="#7b6ec2" stroke-width="1.3" stroke-opacity="0.48" stroke-linejoin="round"/>
<path d="M41.71 26.10v2.6M40.61 27.40h2.2M43.49 28.50v2.6M42.39 29.80h2.2M46.42 33.73v2.6M45.32 35.03h2.2M49.87 38.63v2.6M48.77 39.93h2.2M51.87 40.81v2.6M50.77 42.11h2.2M55.34 42.80v2.6M54.24 44.10h2.2M60.53 45.80v2.6M59.43 47.10h2.2M64.76 48.46v2.6M63.66 49.76h2.2M71.19 51.17v2.6M70.09 52.47h2.2M77.02 52.38v2.6M75.92 53.68h2.2M79.02 52.46v2.6M77.92 53.76h2.2M85.01 52.70v2.6M83.91 54.00h2.2M86.93 53.28v2.6M85.83 54.58h2.2M93.72 56.76v2.6M92.62 58.06h2.2M98.70 56.80v2.6M97.60 58.10h2.2M102.70 56.80v2.6M101.60 58.10h2.2M108.70 56.80v2.6M107.60 58.10h2.2M110.59 59.11v2.6M109.49 60.41h2.2M113.18 59.95v2.6M112.08 61.25h2.2M120.18 59.95v2.6M119.08 61.25h2.2M125.18 59.95v2.6M124.08 61.25h2.2M131.18 59.95v2.6M130.08 61.25h2.2M139.18 59.95v2.6M138.08 61.25h2.2M145.18 59.95v2.6M144.08 61.25h2.2M148.10 59.95v2.6M147.00 61.25h2.2" stroke="#7b6ec2" stroke-width="1.1" opacity="0.7" fill="none"/>
<path d="M37.50 23.40 L41.50 23.50 L44.40 25.50 L45.50 27.30 L48.10 29.20 L50.60 30.30 L55.00 30.30 L58.10 31.40 L60.00 32.10 L71.90 32.10 L74.40 34.25 L85.00 34.25 L90.00 35.50 L95.00 36.00 L96.25 37.50 L98.10 37.90 L99.40 40.00 L147.50 40.00" fill="none" stroke="#4f9b2c" stroke-width="1.4" stroke-opacity="0.6" stroke-linejoin="round"/>
<path d="M39.00 22.14v2.6M37.90 23.44h2.2M43.56 23.62v2.6M42.46 24.92h2.2M45.17 25.46v2.6M44.07 26.76h2.2M47.41 27.40v2.6M46.31 28.70h2.2M49.61 28.56v2.6M48.51 29.86h2.2M56.43 29.51v2.6M55.33 30.81h2.2M61.20 30.80v2.6M60.10 32.10h2.2M62.70 30.80v2.6M61.60 32.10h2.2M64.70 30.80v2.6M63.60 32.10h2.2M67.20 30.80v2.6M66.10 32.10h2.2M68.70 30.80v2.6M67.60 32.10h2.2M72.13 31.00v2.6M71.03 32.30h2.2M73.27 31.97v2.6M72.17 33.27h2.2M76.40 32.95v2.6M75.30 34.25h2.2M82.40 32.95v2.6M81.30 34.25h2.2M87.33 33.53v2.6M86.23 34.83h2.2M92.24 34.42v2.6M91.14 35.72h2.2M96.52 36.26v2.6M95.42 37.56h2.2M101.31 38.70v2.6M100.21 40.00h2.2M103.81 38.70v2.6M102.71 40.00h2.2M107.81 38.70v2.6M106.71 40.00h2.2M109.81 38.70v2.6M108.71 40.00h2.2M111.31 38.70v2.6M110.21 40.00h2.2M113.81 38.70v2.6M112.71 40.00h2.2M119.81 38.70v2.6M118.71 40.00h2.2M122.81 38.70v2.6M121.71 40.00h2.2M126.31 38.70v2.6M125.21 40.00h2.2M131.31 38.70v2.6M130.21 40.00h2.2M134.81 38.70v2.6M133.71 40.00h2.2M139.81 38.70v2.6M138.71 40.00h2.2M146.81 38.70v2.6M145.71 40.00h2.2M147.50 38.70v2.6M146.40 40.00h2.2" stroke="#4f9b2c" stroke-width="1.1" opacity="0.8" fill="none"/>
<path d="M215.50 97.50 L216.10 96.90 L217.40 95.00 L219.25 92.75 L221.10 90.00 L223.60 87.75 L226.75 85.60 L230.50 84.75 L234.25 83.75 L238.00 81.90 L241.75 81.50 L258.00 80.60 L260.00 79.40 L265.00 78.75 L266.25 76.90 L318.10 76.90" fill="none" stroke="#7b6ec2" stroke-width="1.3" stroke-opacity="0.48" stroke-linejoin="round"/>
<path d="M216.47 95.06v2.6M215.37 96.36h2.2M220.05 90.26v2.6M218.95 91.56h2.2M222.68 87.28v2.6M221.58 88.58h2.2M227.67 84.09v2.6M226.57 85.39h2.2M233.50 82.65v2.6M232.40 83.95h2.2M238.04 80.60v2.6M236.94 81.90h2.2M244.01 80.07v2.6M242.91 81.37h2.2M247.01 79.91v2.6M245.91 81.21h2.2M251.00 79.69v2.6M249.90 80.99h2.2M257.99 79.30v2.6M256.89 80.60h2.2M259.71 78.28v2.6M258.61 79.58h2.2M266.63 75.60v2.6M265.53 76.90h2.2M270.63 75.60v2.6M269.53 76.90h2.2M276.63 75.60v2.6M275.53 76.90h2.2M283.63 75.60v2.6M282.53 76.90h2.2M290.63 75.60v2.6M289.53 76.90h2.2M293.63 75.60v2.6M292.53 76.90h2.2M312.63 75.60v2.6M311.53 76.90h2.2M318.10 75.60v2.6M317.00 76.90h2.2" stroke="#7b6ec2" stroke-width="1.1" opacity="0.7" fill="none"/>
<path d="M213.00 99.50 L213.60 99.50 L216.75 98.10 L220.50 97.25 L224.25 96.60 L245.50 96.25 L248.00 95.40 L270.60 95.40 L272.50 92.75 L317.50 92.75" fill="none" stroke="#4f9b2c" stroke-width="1.4" stroke-opacity="0.6" stroke-linejoin="round"/>
<path d="M214.42 97.83v2.6M213.32 99.13h2.2M216.25 97.02v2.6M215.15 98.32h2.2M219.14 96.26v2.6M218.04 97.56h2.2M222.58 95.59v2.6M221.48 96.89h2.2M226.05 95.27v2.6M224.95 96.57h2.2M228.05 95.24v2.6M226.95 96.54h2.2M230.05 95.20v2.6M228.95 96.50h2.2M236.05 95.11v2.6M234.95 96.41h2.2M242.05 95.01v2.6M240.95 96.31h2.2M244.05 94.97v2.6M242.95 96.27h2.2M247.91 94.13v2.6M246.81 95.43h2.2M249.91 94.10v2.6M248.81 95.40h2.2M254.91 94.10v2.6M253.81 95.40h2.2M257.41 94.10v2.6M256.31 95.40h2.2M258.91 94.10v2.6M257.81 95.40h2.2M262.41 94.10v2.6M261.31 95.40h2.2M267.41 94.10v2.6M266.31 95.40h2.2M271.65 92.63v2.6M270.55 93.93h2.2M273.05 91.45v2.6M271.95 92.75h2.2M274.55 91.45v2.6M273.45 92.75h2.2M276.05 91.45v2.6M274.95 92.75h2.2M281.05 91.45v2.6M279.95 92.75h2.2M285.05 91.45v2.6M283.95 92.75h2.2M292.05 91.45v2.6M290.95 92.75h2.2M295.55 91.45v2.6M294.45 92.75h2.2M302.55 91.45v2.6M301.45 92.75h2.2M305.55 91.45v2.6M304.45 92.75h2.2M307.05 91.45v2.6M305.95 92.75h2.2M310.55 91.45v2.6M309.45 92.75h2.2M312.05 91.45v2.6M310.95 92.75h2.2M314.05 91.45v2.6M312.95 92.75h2.2M316.05 91.45v2.6M314.95 92.75h2.2M317.50 91.45v2.6M316.40 92.75h2.2" stroke="#4f9b2c" stroke-width="1.1" opacity="0.8" fill="none"/>
<path d="M386.50 97.00 L386.90 93.75 L387.50 90.60 L388.75 86.90 L390.60 83.75 L393.10 81.25 L396.25 79.00 L400.00 77.90 L415.00 77.90 L417.50 76.90 L422.50 75.60 L431.25 75.60 L432.50 74.75 L442.50 74.75 L445.00 73.10 L448.75 73.10 L450.60 71.90 L487.50 71.90" fill="none" stroke="#7b6ec2" stroke-width="1.3" stroke-opacity="0.48" stroke-linejoin="round"/>
<path d="M386.68 94.21v2.6M385.58 95.51h2.2M386.94 92.23v2.6M385.84 93.53h2.2M387.51 89.28v2.6M386.41 90.58h2.2M389.31 84.64v2.6M388.21 85.94h2.2M391.63 81.42v2.6M390.53 82.72h2.2M396.30 77.68v2.6M395.20 78.98h2.2M400.15 76.60v2.6M399.05 77.90h2.2M403.15 76.60v2.6M402.05 77.90h2.2M410.15 76.60v2.6M409.05 77.90h2.2M412.15 76.60v2.6M411.05 77.90h2.2M419.87 74.98v2.6M418.77 76.28h2.2M423.79 74.30v2.6M422.69 75.60h2.2M427.79 74.30v2.6M426.69 75.60h2.2M431.69 74.00v2.6M430.59 75.30h2.2M434.53 73.45v2.6M433.43 74.75h2.2M442.52 73.44v2.6M441.42 74.74h2.2M447.03 71.80v2.6M445.93 73.10h2.2M451.67 70.60v2.6M450.57 71.90h2.2M456.67 70.60v2.6M455.57 71.90h2.2M464.67 70.60v2.6M463.57 71.90h2.2M470.67 70.60v2.6M469.57 71.90h2.2M475.67 70.60v2.6M474.57 71.90h2.2M482.67 70.60v2.6M481.57 71.90h2.2M487.50 70.60v2.6M486.40 71.90h2.2" stroke="#7b6ec2" stroke-width="1.1" opacity="0.7" fill="none"/>
<path d="M385.00 99.30 L385.60 98.75 L387.50 95.60 L389.40 92.50 L391.25 89.40 L393.75 86.90 L397.50 85.00 L401.90 83.10 L406.25 82.50 L420.00 82.50 L422.50 81.50 L427.50 81.00 L430.00 80.00 L432.50 79.60 L486.90 79.60" fill="none" stroke="#4f9b2c" stroke-width="1.4" stroke-opacity="0.6" stroke-linejoin="round"/>
<path d="M385.95 96.86v2.6M384.85 98.16h2.2M389.59 90.88v2.6M388.49 92.18h2.2M390.62 89.16v2.6M389.52 90.46h2.2M395.74 84.59v2.6M394.64 85.89h2.2M398.90 83.10v2.6M397.80 84.40h2.2M403.61 81.56v2.6M402.51 82.86h2.2M406.59 81.20v2.6M405.49 82.50h2.2M410.09 81.20v2.6M408.99 82.50h2.2M415.09 81.20v2.6M413.99 82.50h2.2M418.59 81.20v2.6M417.49 82.50h2.2M425.38 79.91v2.6M424.28 81.21h2.2M428.77 79.19v2.6M427.67 80.49h2.2M435.65 78.30v2.6M434.55 79.60h2.2M439.65 78.30v2.6M438.55 79.60h2.2M441.15 78.30v2.6M440.05 79.60h2.2M446.15 78.30v2.6M445.05 79.60h2.2M450.15 78.30v2.6M449.05 79.60h2.2M451.65 78.30v2.6M450.55 79.60h2.2M456.65 78.30v2.6M455.55 79.60h2.2M459.15 78.30v2.6M458.05 79.60h2.2M460.65 78.30v2.6M459.55 79.60h2.2M464.65 78.30v2.6M463.55 79.60h2.2M470.65 78.30v2.6M469.55 79.60h2.2M474.65 78.30v2.6M473.55 79.60h2.2M478.65 78.30v2.6M477.55 79.60h2.2M482.15 78.30v2.6M481.05 79.60h2.2M486.90 78.30v2.6M485.80 79.60h2.2" stroke="#4f9b2c" stroke-width="1.1" opacity="0.8" fill="none"/>
<path d="M41.10 167.80 L41.50 172.40 L43.00 178.60 L43.75 180.75 L44.40 185.00 L46.90 188.75 L48.75 191.90 L50.60 195.00 L53.75 197.50 L56.90 200.00 L60.00 202.50 L63.75 202.50 L68.75 203.75 L71.90 205.60 L72.50 207.30 L97.50 207.30 L98.10 211.25 L145.00 211.25" fill="none" stroke="#7b6ec2" stroke-width="1.3" stroke-opacity="0.48" stroke-linejoin="round"/>
<path d="M41.23 167.99v2.6M40.13 169.29h2.2M41.40 169.99v2.6M40.30 171.29h2.2M42.65 175.85v2.6M41.55 177.15h2.2M43.17 177.78v2.6M42.07 179.08h2.2M44.91 184.47v2.6M43.81 185.77h2.2M46.02 186.14v2.6M44.92 187.44h2.2M48.13 189.54v2.6M47.03 190.84h2.2M50.17 192.98v2.6M49.07 194.28h2.2M55.42 197.53v2.6M54.32 198.83h2.2M59.32 200.65v2.6M58.22 201.95h2.2M63.13 201.20v2.6M62.03 202.50h2.2M68.95 202.57v2.6M67.85 203.87h2.2M73.27 206.00v2.6M72.17 207.30h2.2M77.27 206.00v2.6M76.17 207.30h2.2M80.27 206.00v2.6M79.17 207.30h2.2M84.27 206.00v2.6M83.17 207.30h2.2M87.27 206.00v2.6M86.17 207.30h2.2M91.27 206.00v2.6M90.17 207.30h2.2M97.77 207.75v2.6M96.67 209.05h2.2M99.88 209.95v2.6M98.78 211.25h2.2M107.88 209.95v2.6M106.78 211.25h2.2" stroke="#7b6ec2" stroke-width="1.1" opacity="0.7" fill="none"/>
<path d="M37.50 167.30 L41.10 167.50 L44.40 171.40 L47.00 174.60 L50.60 176.50 L52.50 177.20 L56.25 179.50 L60.00 181.40 L63.10 183.90 L66.90 185.75 L71.25 185.75 L75.00 187.00 L81.25 187.60 L85.00 188.90 L87.50 191.00 L90.00 190.80 L92.50 193.10 L95.60 194.75 L107.50 194.75 L108.75 197.60 L145.60 197.90" fill="none" stroke="#12306e" stroke-width="1.5" stroke-opacity="0.85" stroke-linejoin="round"/>
<path d="M39.00 166.08v2.6M37.90 167.38h2.2M40.50 166.17v2.6M39.40 167.47h2.2M42.32 167.65v2.6M41.22 168.95h2.2M44.58 170.32v2.6M43.48 171.62h2.2M49.80 174.78v2.6M48.70 176.08h2.2M52.56 175.94v2.6M51.46 177.24h2.2M55.54 177.76v2.6M54.44 179.06h2.2M58.18 179.18v2.6M57.08 180.48h2.2M61.53 181.33v2.6M60.43 182.63h2.2M63.53 182.81v2.6M62.43 184.11h2.2M68.16 184.45v2.6M67.06 185.75h2.2M70.16 184.45v2.6M69.06 185.75h2.2M72.11 184.74v2.6M71.01 186.04h2.2M75.95 185.79v2.6M74.85 187.09h2.2M79.93 186.17v2.6M78.83 187.47h2.2M82.83 186.85v2.6M81.73 188.15h2.2M87.94 189.66v2.6M86.84 190.96h2.2M90.32 189.79v2.6M89.22 191.09h2.2M91.79 191.15v2.6M90.69 192.45h2.2M95.18 193.23v2.6M94.08 194.53h2.2M98.12 193.45v2.6M97.02 194.75h2.2M104.12 193.45v2.6M103.02 194.75h2.2M107.55 193.56v2.6M106.45 194.86h2.2M108.76 196.30v2.6M107.66 197.60h2.2M110.76 196.32v2.6M109.66 197.62h2.2M112.26 196.33v2.6M111.16 197.63h2.2M119.26 196.39v2.6M118.16 197.69h2.2M122.26 196.41v2.6M121.16 197.71h2.2M126.26 196.44v2.6M125.16 197.74h2.2M128.76 196.46v2.6M127.66 197.76h2.2M132.26 196.49v2.6M131.16 197.79h2.2M136.26 196.52v2.6M135.16 197.82h2.2M138.26 196.54v2.6M137.16 197.84h2.2M142.26 196.57v2.6M141.16 197.87h2.2M144.76 196.59v2.6M143.66 197.89h2.2M145.60 196.60v2.6M144.50 197.90h2.2" stroke="#12306e" stroke-width="1.1" opacity="0.95" fill="none"/>
<path d="M214.90 241.25 L215.50 237.50 L216.10 233.75 L217.40 231.90 L219.25 229.40 L221.75 226.25 L224.25 224.40 L226.75 222.75 L229.25 221.50 L243.00 221.50 L244.90 220.25 L267.50 220.10 L268.75 216.90 L317.50 216.90" fill="none" stroke="#7b6ec2" stroke-width="1.3" stroke-opacity="0.48" stroke-linejoin="round"/>
<path d="M215.14 238.47v2.6M214.04 239.77h2.2M215.77 234.52v2.6M214.67 235.82h2.2M218.38 229.28v2.6M217.28 230.58h2.2M223.77 223.46v2.6M222.67 224.76h2.2M230.86 220.20v2.6M229.76 221.50h2.2M234.86 220.20v2.6M233.76 221.50h2.2M239.86 220.20v2.6M238.76 221.50h2.2M243.72 219.73v2.6M242.62 221.03h2.2M250.49 218.91v2.6M249.39 220.21h2.2M255.49 218.88v2.6M254.39 220.18h2.2M259.49 218.85v2.6M258.39 220.15h2.2M264.49 218.82v2.6M263.39 220.12h2.2M268.59 216.02v2.6M267.49 217.32h2.2M273.30 215.60v2.6M272.20 216.90h2.2M275.30 215.60v2.6M274.20 216.90h2.2M280.30 215.60v2.6M279.20 216.90h2.2" stroke="#7b6ec2" stroke-width="1.1" opacity="0.7" fill="none"/>
<path d="M213.50 242.60 L214.25 242.50 L218.00 241.25 L221.75 240.25 L225.50 239.75 L231.75 239.00 L235.50 237.25 L240.50 236.90 L249.25 236.25 L253.00 236.25 L254.25 235.60 L260.00 235.60 L262.50 233.50 L316.25 233.50" fill="none" stroke="#12306e" stroke-width="1.5" stroke-opacity="0.85" stroke-linejoin="round"/>
<path d="M214.96 240.96v2.6M213.86 242.26h2.2M221.66 238.97v2.6M220.56 240.27h2.2M224.63 238.57v2.6M223.53 239.87h2.2M226.12 238.38v2.6M225.02 239.68h2.2M232.05 237.56v2.6M230.95 238.86h2.2M238.69 235.73v2.6M237.59 237.03h2.2M242.18 235.48v2.6M241.08 236.78h2.2M249.16 234.96v2.6M248.06 236.26h2.2M253.14 234.88v2.6M252.04 236.18h2.2M256.00 234.30v2.6M254.90 235.60h2.2M258.00 234.30v2.6M256.90 235.60h2.2M261.15 233.34v2.6M260.05 234.64h2.2M262.73 232.20v2.6M261.63 233.50h2.2M265.73 232.20v2.6M264.63 233.50h2.2M267.23 232.20v2.6M266.13 233.50h2.2M268.73 232.20v2.6M267.63 233.50h2.2M275.73 232.20v2.6M274.63 233.50h2.2M278.73 232.20v2.6M277.63 233.50h2.2M283.73 232.20v2.6M282.63 233.50h2.2M285.23 232.20v2.6M284.13 233.50h2.2M286.73 232.20v2.6M285.63 233.50h2.2M292.73 232.20v2.6M291.63 233.50h2.2M294.73 232.20v2.6M293.63 233.50h2.2M297.23 232.20v2.6M296.13 233.50h2.2M304.23 232.20v2.6M303.13 233.50h2.2M307.73 232.20v2.6M306.63 233.50h2.2M310.73 232.20v2.6M309.63 233.50h2.2M312.23 232.20v2.6M311.13 233.50h2.2M316.25 232.20v2.6M315.15 233.50h2.2" stroke="#12306e" stroke-width="1.1" opacity="0.95" fill="none"/>
<path d="M387.00 236.00 L387.50 233.10 L388.75 228.75 L390.60 223.75 L392.50 220.60 L394.40 219.00 L398.75 218.30 L402.50 217.25 L418.60 217.20 L421.50 216.80 L425.00 216.50 L433.00 216.10 L443.40 215.50 L448.00 215.00 L490.80 215.00" fill="none" stroke="#7b6ec2" stroke-width="1.3" stroke-opacity="0.48" stroke-linejoin="round"/>
<path d="M387.25 233.22v2.6M386.15 234.52h2.2M388.76 227.42v2.6M387.66 228.72h2.2M390.50 222.73v2.6M389.40 224.03h2.2M391.48 220.99v2.6M390.38 222.29h2.2M395.92 217.46v2.6M394.82 218.76h2.2M397.89 217.14v2.6M396.79 218.44h2.2M401.77 216.16v2.6M400.67 217.46h2.2M404.74 215.94v2.6M403.64 217.24h2.2M408.74 215.93v2.6M407.64 217.23h2.2M416.74 215.91v2.6M415.64 217.21h2.2M422.71 215.40v2.6M421.61 216.70h2.2M427.69 215.07v2.6M426.59 216.37h2.2M435.68 214.65v2.6M434.58 215.95h2.2M443.67 214.17v2.6M442.57 215.47h2.2M445.66 213.95v2.6M444.56 215.25h2.2M449.64 213.70v2.6M448.54 215.00h2.2M452.64 213.70v2.6M451.54 215.00h2.2M455.64 213.70v2.6M454.54 215.00h2.2M457.64 213.70v2.6M456.54 215.00h2.2M463.64 213.70v2.6M462.54 215.00h2.2M471.64 213.70v2.6M470.54 215.00h2.2M473.64 213.70v2.6M472.54 215.00h2.2M476.64 213.70v2.6M475.54 215.00h2.2M479.64 213.70v2.6M478.54 215.00h2.2M487.64 213.70v2.6M486.54 215.00h2.2M490.80 213.70v2.6M489.70 215.00h2.2" stroke="#7b6ec2" stroke-width="1.1" opacity="0.7" fill="none"/>
<path d="M385.00 243.10 L386.25 237.50 L387.50 233.75 L389.40 230.00 L391.25 227.50 L393.75 225.60 L395.00 224.10 L397.30 221.80 L401.90 220.70 L410.00 220.10 L418.00 219.50 L421.50 217.20 L425.00 216.70 L433.00 216.10 L443.40 215.50 L448.00 214.30 L450.60 212.90 L489.20 212.90" fill="none" stroke="#12306e" stroke-width="1.5" stroke-opacity="0.85" stroke-linejoin="round"/>
<path d="M385.33 240.34v2.6M384.23 241.64h2.2M385.87 237.90v2.6M384.77 239.20h2.2M386.20 236.43v2.6M385.10 237.73h2.2M388.32 230.84v2.6M387.22 232.14h2.2M390.95 226.61v2.6M389.85 227.91h2.2M392.04 225.60v2.6M390.94 226.90h2.2M394.62 223.26v2.6M393.52 224.56h2.2M396.70 221.10v2.6M395.60 222.40h2.2M399.88 219.88v2.6M398.78 221.18h2.2M406.81 219.04v2.6M405.71 220.34h2.2M413.79 218.52v2.6M412.69 219.82h2.2M418.65 217.77v2.6M417.55 219.07h2.2M419.90 216.95v2.6M418.80 218.25h2.2M425.55 215.36v2.6M424.45 216.66h2.2M429.54 215.06v2.6M428.44 216.36h2.2M431.04 214.95v2.6M429.94 216.25h2.2M432.53 214.84v2.6M431.43 216.14h2.2M435.03 214.68v2.6M433.93 215.98h2.2M436.52 214.60v2.6M435.42 215.90h2.2M438.52 214.48v2.6M437.42 215.78h2.2M440.02 214.40v2.6M438.92 215.70h2.2M442.01 214.28v2.6M440.91 215.58h2.2M447.86 213.04v2.6M446.76 214.34h2.2M449.20 212.36v2.6M448.10 213.66h2.2M451.01 211.60v2.6M449.91 212.90h2.2M458.01 211.60v2.6M456.91 212.90h2.2M465.01 211.60v2.6M463.91 212.90h2.2M471.01 211.60v2.6M469.91 212.90h2.2M475.01 211.60v2.6M473.91 212.90h2.2M477.51 211.60v2.6M476.41 212.90h2.2M481.51 211.60v2.6M480.41 212.90h2.2M483.51 211.60v2.6M482.41 212.90h2.2M487.51 211.60v2.6M486.41 212.90h2.2M489.20 211.60v2.6M488.10 212.90h2.2" stroke="#12306e" stroke-width="1.1" opacity="0.95" fill="none"/>
<path d="M41.30 312.40 L41.50 316.00 L42.60 319.00 L43.30 321.90 L44.40 323.60 L46.90 329.20 L50.00 334.40 L55.00 338.40 L60.00 342.50 L65.00 345.60 L70.00 347.25 L75.00 348.10 L81.25 348.50 L85.00 350.60 L90.00 351.40 L91.90 352.50 L105.60 352.50 L107.50 355.60 L145.60 355.60" fill="none" stroke="#7b6ec2" stroke-width="1.3" stroke-opacity="0.48" stroke-linejoin="round"/>
<path d="M41.38 312.60v2.6M40.28 313.90h2.2M43.00 319.35v2.6M41.90 320.65h2.2M45.09 323.84v2.6M43.99 325.14h2.2M47.70 329.24v2.6M46.60 330.54h2.2M49.75 332.67v2.6M48.65 333.97h2.2M52.74 335.29v2.6M51.64 336.59h2.2M55.85 337.80v2.6M54.75 339.10h2.2M58.17 339.70v2.6M57.07 341.00h2.2M61.39 342.06v2.6M60.29 343.36h2.2M65.71 344.54v2.6M64.61 345.84h2.2M67.61 345.16v2.6M66.51 346.46h2.2M70.48 346.03v2.6M69.38 347.33h2.2M76.41 346.89v2.6M75.31 348.19h2.2M78.41 347.02v2.6M77.31 348.32h2.2M84.87 349.23v2.6M83.77 350.53h2.2M91.55 351.00v2.6M90.45 352.30h2.2M96.50 351.20v2.6M95.40 352.50h2.2M104.50 351.20v2.6M103.40 352.50h2.2M106.07 351.96v2.6M104.97 353.26h2.2M110.76 354.30v2.6M109.66 355.60h2.2M113.76 354.30v2.6M112.66 355.60h2.2M115.76 354.30v2.6M114.66 355.60h2.2M119.76 354.30v2.6M118.66 355.60h2.2M124.76 354.30v2.6M123.66 355.60h2.2M130.76 354.30v2.6M129.66 355.60h2.2M137.76 354.30v2.6M136.66 355.60h2.2M145.60 354.30v2.6M144.50 355.60h2.2" stroke="#7b6ec2" stroke-width="1.1" opacity="0.7" fill="none"/>
<path d="M37.50 311.40 L41.50 311.50 L43.30 312.00 L45.20 314.60 L48.10 316.40 L51.40 319.00 L53.80 318.80 L56.20 320.30 L58.50 319.90 L63.10 321.10 L68.50 321.10 L70.80 320.70 L73.10 323.00 L75.40 323.80 L82.50 323.75 L87.50 324.40 L90.00 325.00 L93.75 326.25 L96.90 328.10 L98.10 328.75 L144.40 328.75" fill="none" stroke="#a80c32" stroke-width="1.5" stroke-opacity="0.85" stroke-linejoin="round"/>
<path d="M39.00 310.14v2.6M37.90 311.44h2.2M44.85 312.82v2.6M43.75 314.12h2.2M48.88 315.72v2.6M47.78 317.02h2.2M50.06 316.65v2.6M48.96 317.95h2.2M54.55 317.97v2.6M53.45 319.27h2.2M55.82 318.77v2.6M54.72 320.07h2.2M59.68 318.91v2.6M58.58 320.21h2.2M65.57 319.80v2.6M64.47 321.10h2.2M69.55 319.62v2.6M68.45 320.92h2.2M73.56 321.86v2.6M72.46 323.16h2.2M78.45 322.48v2.6M77.35 323.78h2.2M84.43 322.70v2.6M83.33 324.00h2.2M85.92 322.89v2.6M84.82 324.19h2.2M88.87 323.43v2.6M87.77 324.73h2.2M91.74 324.28v2.6M90.64 325.58h2.2M97.98 327.38v2.6M96.88 328.68h2.2M101.46 327.45v2.6M100.36 328.75h2.2M103.46 327.45v2.6M102.36 328.75h2.2M108.46 327.45v2.6M107.36 328.75h2.2M111.46 327.45v2.6M110.36 328.75h2.2M116.46 327.45v2.6M115.36 328.75h2.2M118.96 327.45v2.6M117.86 328.75h2.2M120.46 327.45v2.6M119.36 328.75h2.2M124.46 327.45v2.6M123.36 328.75h2.2M128.46 327.45v2.6M127.36 328.75h2.2M135.46 327.45v2.6M134.36 328.75h2.2M138.96 327.45v2.6M137.86 328.75h2.2M140.96 327.45v2.6M139.86 328.75h2.2M144.40 327.45v2.6M143.30 328.75h2.2" stroke="#a80c32" stroke-width="1.1" opacity="0.95" fill="none"/>
<path d="M215.30 386.50 L215.50 385.00 L216.10 382.50 L218.00 380.00 L220.50 377.75 L223.00 376.25 L226.75 375.00 L230.50 373.75 L234.25 372.50 L236.75 371.90 L253.00 371.90 L255.50 371.50 L260.50 371.25 L263.75 371.25 L265.60 370.00 L319.40 370.00" fill="none" stroke="#7b6ec2" stroke-width="1.3" stroke-opacity="0.48" stroke-linejoin="round"/>
<path d="M215.50 383.71v2.6M214.40 385.01h2.2M218.95 377.85v2.6M217.85 379.15h2.2M220.43 376.51v2.6M219.33 377.81h2.2M227.74 373.37v2.6M226.64 374.67h2.2M234.38 371.17v2.6M233.28 372.47h2.2M241.32 370.60v2.6M240.22 371.90h2.2M249.32 370.60v2.6M248.22 371.90h2.2M255.29 370.23v2.6M254.19 371.53h2.2M263.28 369.95v2.6M262.18 371.25h2.2M267.90 368.70v2.6M266.80 370.00h2.2M287.90 368.70v2.6M286.80 370.00h2.2M293.90 368.70v2.6M292.80 370.00h2.2M299.90 368.70v2.6M298.80 370.00h2.2M301.90 368.70v2.6M300.80 370.00h2.2M309.90 368.70v2.6M308.80 370.00h2.2M315.90 368.70v2.6M314.80 370.00h2.2M319.40 368.70v2.6M318.30 370.00h2.2" stroke="#7b6ec2" stroke-width="1.1" opacity="0.7" fill="none"/>
<path d="M213.00 388.10 L216.75 387.50 L220.50 386.25 L224.25 384.75 L228.00 384.00 L233.00 383.75 L238.00 382.50 L244.25 382.25 L248.00 381.50 L258.00 381.50 L261.75 381.25 L265.00 380.60 L268.75 380.00 L271.25 378.75 L318.75 378.75" fill="none" stroke="#a80c32" stroke-width="1.5" stroke-opacity="0.85" stroke-linejoin="round"/>
<path d="M214.48 386.56v2.6M213.38 387.86h2.2M215.96 386.33v2.6M214.86 387.63h2.2M221.66 384.49v2.6M220.56 385.79h2.2M223.98 383.56v2.6M222.88 384.86h2.2M226.91 382.92v2.6M225.81 384.22h2.2M231.88 382.51v2.6M230.78 383.81h2.2M233.37 382.36v2.6M232.27 383.66h2.2M240.22 381.11v2.6M239.12 382.41h2.2M242.22 381.03v2.6M241.12 382.33h2.2M244.22 380.95v2.6M243.12 382.25h2.2M249.15 380.20v2.6M248.05 381.50h2.2M251.65 380.20v2.6M250.55 381.50h2.2M253.15 380.20v2.6M252.05 381.50h2.2M257.15 380.20v2.6M256.05 381.50h2.2M259.14 380.12v2.6M258.04 381.42h2.2M260.64 380.02v2.6M259.54 381.32h2.2M262.62 379.78v2.6M261.52 381.08h2.2M268.53 378.74v2.6M267.43 380.04h2.2M271.73 377.45v2.6M270.63 378.75h2.2M275.23 377.45v2.6M274.13 378.75h2.2M277.23 377.45v2.6M276.13 378.75h2.2M278.73 377.45v2.6M277.63 378.75h2.2M285.73 377.45v2.6M284.63 378.75h2.2M292.73 377.45v2.6M291.63 378.75h2.2M295.73 377.45v2.6M294.63 378.75h2.2M297.73 377.45v2.6M296.63 378.75h2.2M304.73 377.45v2.6M303.63 378.75h2.2M306.73 377.45v2.6M305.63 378.75h2.2M313.73 377.45v2.6M312.63 378.75h2.2M315.23 377.45v2.6M314.13 378.75h2.2M318.75 377.45v2.6M317.65 378.75h2.2" stroke="#a80c32" stroke-width="1.1" opacity="0.95" fill="none"/>
<path d="M386.20 384.00 L386.30 381.60 L386.90 376.60 L387.60 371.50 L388.20 367.75 L389.40 363.30 L390.70 359.60 L392.60 355.15 L395.10 352.00 L398.90 349.90 L400.15 349.10 L417.80 349.10 L420.30 348.20 L430.40 348.20 L434.20 347.00 L437.90 346.30 L448.20 346.30 L449.50 344.40 L489.80 344.40" fill="none" stroke="#7b6ec2" stroke-width="1.3" stroke-opacity="0.48" stroke-linejoin="round"/>
<path d="M386.26 381.20v2.6M385.16 382.50h2.2M386.67 377.22v2.6M385.57 378.52h2.2M387.74 369.30v2.6M386.64 370.60h2.2M389.01 363.44v2.6M387.91 364.74h2.2M389.90 360.58v2.6M388.80 361.88h2.2M393.06 353.26v2.6M391.96 354.56h2.2M394.31 351.70v2.6M393.21 353.00h2.2M396.61 349.87v2.6M395.51 351.17h2.2M399.22 348.39v2.6M398.12 349.69h2.2M406.05 347.80v2.6M404.95 349.10h2.2M409.05 347.80v2.6M407.95 349.10h2.2M414.05 347.80v2.6M412.95 349.10h2.2M419.92 347.04v2.6M418.82 348.34h2.2M426.89 346.90v2.6M425.79 348.20h2.2M434.70 345.61v2.6M433.60 346.91h2.2M439.64 345.00v2.6M438.54 346.30h2.2M443.64 345.00v2.6M442.54 346.30h2.2M447.64 345.00v2.6M446.54 346.30h2.2M452.64 343.10v2.6M451.54 344.40h2.2M457.64 343.10v2.6M456.54 344.40h2.2M461.64 343.10v2.6M460.54 344.40h2.2M467.64 343.10v2.6M466.54 344.40h2.2M472.64 343.10v2.6M471.54 344.40h2.2M474.64 343.10v2.6M473.54 344.40h2.2M479.64 343.10v2.6M478.54 344.40h2.2M485.64 343.10v2.6M484.54 344.40h2.2M488.64 343.10v2.6M487.54 344.40h2.2M489.80 343.10v2.6M488.70 344.40h2.2" stroke="#7b6ec2" stroke-width="1.1" opacity="0.7" fill="none"/>
<path d="M385.00 389.20 L386.30 386.60 L387.60 382.90 L388.80 379.70 L391.30 376.60 L395.10 374.00 L398.90 372.15 L402.70 370.90 L405.20 370.30 L415.30 370.30 L417.80 368.75 L421.60 366.50 L425.30 365.90 L429.10 365.20 L441.90 365.20 L443.20 363.20 L489.20 363.20" fill="none" stroke="#a80c32" stroke-width="1.5" stroke-opacity="0.85" stroke-linejoin="round"/>
<path d="M385.67 386.56v2.6M384.57 387.86h2.2M386.66 384.27v2.6M385.56 385.57h2.2M388.36 379.57v2.6M387.26 380.87h2.2M392.76 374.30v2.6M391.66 375.60h2.2M397.95 371.31v2.6M396.85 372.61h2.2M400.27 370.40v2.6M399.17 371.70h2.2M405.07 369.03v2.6M403.97 370.33h2.2M407.57 369.00v2.6M406.47 370.30h2.2M410.07 369.00v2.6M408.97 370.30h2.2M412.07 369.00v2.6M410.97 370.30h2.2M417.65 367.54v2.6M416.55 368.84h2.2M422.99 364.97v2.6M421.89 366.27h2.2M429.90 363.90v2.6M428.80 365.20h2.2M435.90 363.90v2.6M434.80 365.20h2.2M438.40 363.90v2.6M437.30 365.20h2.2M440.90 363.90v2.6M439.80 365.20h2.2M443.31 361.90v2.6M442.21 363.20h2.2M446.31 361.90v2.6M445.21 363.20h2.2M448.81 361.90v2.6M447.71 363.20h2.2M455.81 361.90v2.6M454.71 363.20h2.2M459.81 361.90v2.6M458.71 363.20h2.2M462.81 361.90v2.6M461.71 363.20h2.2M469.81 361.90v2.6M468.71 363.20h2.2M473.31 361.90v2.6M472.21 363.20h2.2M478.31 361.90v2.6M477.21 363.20h2.2M481.81 361.90v2.6M480.71 363.20h2.2M484.81 361.90v2.6M483.71 363.20h2.2M488.31 361.90v2.6M487.21 363.20h2.2M489.20 361.90v2.6M488.10 363.20h2.2" stroke="#a80c32" stroke-width="1.1" opacity="0.95" fill="none"/>
<path d="M181.1 137.5H191.7" stroke="#4f9b2c" stroke-width="1.2"/>
<path d="M270.8 137.5H280.6" stroke="#7b6ec2" stroke-width="1.2" stroke-opacity="0.85"/>
<text x="194.60" y="139.7" font-size="7.6" fill="#111" textLength="67.30" lengthAdjust="spacingAndGlyphs">Higher CD20+ B cell</text>
<text x="283.3" y="139.7" font-size="7.6" fill="#111" textLength="19.8" lengthAdjust="spacingAndGlyphs">Lower</text>
<text x="307.00" y="139.7" font-size="7.6" fill="#111" textLength="44.10" lengthAdjust="spacingAndGlyphs">CD20+ B cell</text>
<path d="M161.2 281.2H171.2" stroke="#12306e" stroke-width="1.2"/>
<path d="M270.8 281.2H280.6" stroke="#7b6ec2" stroke-width="1.2" stroke-opacity="0.85"/>
<text x="173.90" y="283.6" font-size="7.6" fill="#111" textLength="88.40" lengthAdjust="spacingAndGlyphs">Higher CD8+CD11b- T cell</text>
<text x="283.3" y="283.6" font-size="7.6" fill="#111" textLength="19.8" lengthAdjust="spacingAndGlyphs">Lower</text>
<text x="307.40" y="283.6" font-size="7.6" fill="#111" textLength="64.90" lengthAdjust="spacingAndGlyphs">CD8+CD11b- T cell</text>
<path d="M155.4 425.7H165.4" stroke="#a80c32" stroke-width="1.2"/>
<path d="M270.8 425.7H280.6" stroke="#7b6ec2" stroke-width="1.2" stroke-opacity="0.85"/>
<text x="168.50" y="428.0" font-size="7.6" fill="#111" textLength="93.70" lengthAdjust="spacingAndGlyphs">Higher CD16+CD57- NK cell</text>
<text x="283.3" y="428.0" font-size="7.6" fill="#111" textLength="19.8" lengthAdjust="spacingAndGlyphs">Lower</text>
<text x="307.00" y="428.0" font-size="7.6" fill="#111" textLength="70.20" lengthAdjust="spacingAndGlyphs">CD16+CD57- NK cell</text>
</svg></body></html>
